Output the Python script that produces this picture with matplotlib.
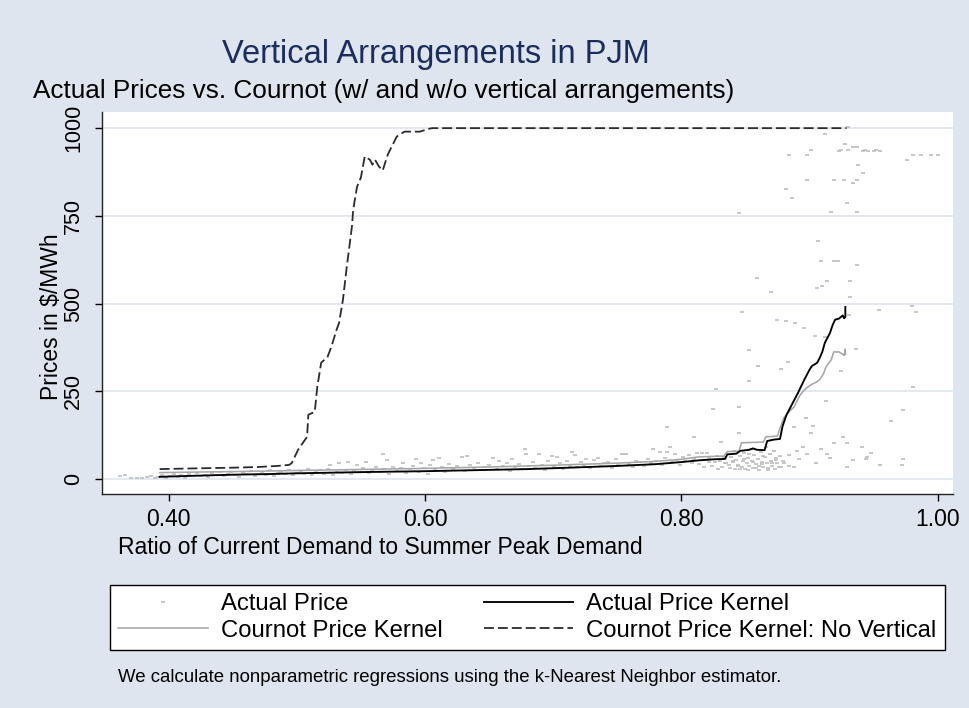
import matplotlib
matplotlib.use("Agg")
import matplotlib.pyplot as plt
from matplotlib.lines import Line2D

plt.rcParams['font.family'] = ['Liberation Sans', 'DejaVu Sans']

# scatter of actual prices (ratio, $/MWh)
price_x = [0.362, 0.366, 0.371, 0.375, 0.379, 0.383, 0.386, 0.389, 0.392, 0.395, 0.398, 0.401, 0.404, 0.407,
           0.410, 0.413, 0.416, 0.419, 0.422, 0.425, 0.428, 0.431, 0.434, 0.437, 0.440, 0.443, 0.446, 0.449,
           0.452, 0.455, 0.458, 0.461, 0.464, 0.467, 0.470, 0.473, 0.476, 0.479, 0.482, 0.485, 0.488, 0.491,
           0.494, 0.497, 0.500, 0.503, 0.506, 0.509, 0.512, 0.515, 0.518, 0.521, 0.524, 0.526, 0.528, 0.531,
           0.533, 0.535, 0.538, 0.540, 0.542, 0.545, 0.547, 0.549, 0.552, 0.554, 0.556, 0.559, 0.562, 0.565,
           0.567, 0.568, 0.570, 0.572, 0.575, 0.578, 0.581, 0.583, 0.585, 0.588, 0.591, 0.593, 0.595, 0.597,
           0.599, 0.602, 0.604, 0.606, 0.608, 0.611, 0.613, 0.616, 0.619, 0.622, 0.625, 0.629, 0.631, 0.633,
           0.635, 0.638, 0.641, 0.644, 0.647, 0.650, 0.653, 0.656, 0.658, 0.661, 0.664, 0.666, 0.668, 0.670,
           0.673, 0.676, 0.678, 0.679, 0.681, 0.684, 0.686, 0.689, 0.691, 0.694, 0.696, 0.699, 0.701, 0.703,
           0.705, 0.708, 0.711, 0.713, 0.715, 0.717, 0.719, 0.722, 0.724, 0.726, 0.729, 0.732, 0.735, 0.737,
           0.740, 0.743, 0.746, 0.749, 0.751, 0.754, 0.757, 0.759, 0.762, 0.765, 0.768, 0.771, 0.774, 0.776,
           0.778, 0.780, 0.783, 0.785, 0.787, 0.789, 0.789, 0.791, 0.793, 0.795, 0.797, 0.799, 0.801, 0.803,
           0.806, 0.808, 0.810, 0.810, 0.812, 0.814, 0.816, 0.818, 0.820, 0.822, 0.824, 0.825, 0.826, 0.827,
           0.828, 0.830, 0.831, 0.832, 0.834, 0.835, 0.836, 0.838, 0.839, 0.840, 0.841, 0.842, 0.843, 0.844,
           0.845, 0.845, 0.845, 0.846, 0.847, 0.847, 0.848, 0.849, 0.850, 0.851, 0.852, 0.853, 0.853, 0.853,
           0.854, 0.855, 0.856, 0.857, 0.858, 0.859, 0.860, 0.860, 0.861, 0.862, 0.863, 0.864, 0.865, 0.866,
           0.867, 0.868, 0.869, 0.870, 0.870, 0.871, 0.872, 0.873, 0.874, 0.875, 0.875, 0.876, 0.877, 0.878,
           0.878, 0.879, 0.880, 0.882, 0.882, 0.883, 0.884, 0.884, 0.884, 0.886, 0.888, 0.888, 0.889, 0.890,
           0.892, 0.895, 0.896, 0.897, 0.898, 0.898, 0.898, 0.901, 0.901, 0.903, 0.904, 0.905, 0.906, 0.907,
           0.909, 0.909, 0.910, 0.912, 0.912, 0.913, 0.914, 0.914, 0.916, 0.917, 0.919, 0.919, 0.919, 0.922,
           0.923, 0.925, 0.925, 0.926, 0.927, 0.928, 0.929, 0.929, 0.929, 0.930, 0.930, 0.931, 0.932, 0.932,
           0.934, 0.934, 0.934, 0.936, 0.937, 0.937, 0.937, 0.937, 0.938, 0.941, 0.942, 0.942, 0.943, 0.944,
           0.945, 0.946, 0.948, 0.950, 0.952, 0.954, 0.955, 0.955, 0.964, 0.972, 0.973, 0.973, 0.976, 0.980,
           0.981, 0.981, 0.983, 0.987, 0.995, 1.000,
           # extra points in the dense band
           0.818, 0.822, 0.829, 0.833, 0.837, 0.844, 0.849, 0.852, 0.856, 0.861, 0.864, 0.868, 0.871, 0.874,
           0.853, 0.858, 0.863, 0.846, 0.840, 0.834]
price_y = [8, 10, 2, 4, 3, 6, 9, 2, 5, 12, 4, 8, 15, 6,
           11, 3, 13, 9, 17, 7, 12, 5, 16, 10, 19, 8, 14, 21,
           11, 6, 17, 13, 22, 9, 15, 19, 12, 24, 8, 16, 20, 13,
           25, 10, 18, 22, 14, 27, 11, 19, 24, 15, 29, 40, 12, 21,
           46, 17, 26, 49, 14, 23, 40, 19, 30, 49, 16, 25, 33, 20,
           71, 28, 54, 13, 35, 22, 30, 46, 18, 27, 38, 57, 21, 46,
           31, 15, 40, 54, 26, 60, 33, 19, 42, 28, 36, 63, 22, 66,
           39, 30, 45, 24, 35, 41, 60, 29, 51, 37, 46, 23, 57, 33,
           42, 27, 86, 71, 38, 48, 31, 71, 40, 26, 52, 66, 35, 63,
           44, 29, 50, 38, 77, 68, 33, 47, 41, 57, 30, 53, 60, 36,
           45, 49, 32, 56, 40, 71, 71, 43, 35, 52, 47, 38, 58, 44,
           86, 51, 77, 41, 61, 77, 148, 91, 48, 71, 55, 39, 63, 50,
           68, 45, 120, 58, 74, 42, 74, 53, 74, 61, 38, 200, 47, 257,
           66, 52, 106, 35, 58, 44, 70, 30, 62, 48, 80, 27, 55, 40,
           131, 205, 757, 66, 477, 34, 50, 74, 28, 45, 60, 280, 368, 38,
           85, 52, 30, 68, 42, 573, 323, 57, 25, 76, 48, 35, 62, 90,
           44, 30, 70, 534, 52, 38, 80, 27, 60, 454, 45, 33, 66, 314,
           34, 50, 46, 827, 451, 334, 922, 68, 37, 802, 148, 34, 445, 80,
           57, 91, 431, 174, 853, 922, 71, 131, 937, 151, 408, 46, 545, 679,
           622, 86, 551, 405, 982, 223, 71, 565, 60, 762, 853, 622, 103, 622,
           936, 937, 308, 120, 853, 956, 103, 34, 787, 937, 1002, 468, 565, 519,
           945, 844, 54, 371, 945, 853, 611, 762, 896, 91, 873, 936, 937, 57,
           63, 936, 74, 936, 937, 482, 40, 936, 166, 40, 57, 197, 910, 494,
           263, 922, 477, 922, 922, 922,
           33, 47, 28, 63, 41, 36, 58, 24, 49, 37, 66, 26, 45, 55,
           71, 31, 42, 29, 52, 44]

# k-nearest-neighbour fits
actual_x = [0.393, 0.42, 0.45, 0.48, 0.50, 0.53, 0.56, 0.60, 0.64, 0.68, 0.72, 0.75, 0.78, 0.80, 0.814,
            0.826, 0.834, 0.836, 0.843, 0.846, 0.853, 0.856, 0.859, 0.865, 0.867, 0.872, 0.877, 0.879, 0.882,
            0.886, 0.891, 0.896, 0.900, 0.902, 0.906, 0.908, 0.910, 0.912, 0.916, 0.918, 0.920, 0.923, 0.926,
            0.927, 0.928, 0.928]
actual_y = [6, 9, 12, 14, 16, 18, 20, 22, 25, 28, 33, 37, 42, 48, 53,
            56, 57, 70, 72, 80, 83, 87, 83, 82, 108, 112, 114, 150, 182,
            210, 245, 283, 311, 322, 331, 345, 362, 388, 416, 438, 454, 457, 466,
            458, 462, 490]

cournot_x = [0.393, 0.43, 0.47, 0.50, 0.55, 0.60, 0.65, 0.70, 0.75, 0.78, 0.80, 0.814, 0.833, 0.836,
             0.845, 0.847, 0.864, 0.866, 0.875, 0.877, 0.880, 0.885, 0.888, 0.892, 0.895, 0.898, 0.902,
             0.905, 0.908, 0.911, 0.913, 0.917, 0.919, 0.923, 0.926, 0.927, 0.928, 0.928]
cournot_y = [18, 20, 22, 24, 27, 30, 34, 39, 45, 50, 56, 63, 65, 78,
             79, 103, 105, 120, 122, 145, 174, 195, 205, 235, 250, 260, 270,
             275, 283, 300, 320, 340, 362, 362, 355, 352, 370, 355]

novert_x = [0.393, 0.42, 0.45, 0.47, 0.485, 0.494, 0.496, 0.501, 0.508, 0.509, 0.514, 0.516, 0.519, 0.524,
            0.527, 0.531, 0.533, 0.536, 0.539, 0.543, 0.544, 0.547, 0.550, 0.553, 0.557, 0.559, 0.561,
            0.564, 0.567, 0.571, 0.578, 0.584, 0.592, 0.596, 0.604, 0.606, 0.929]
novert_y = [28, 30, 32, 34, 37, 40, 45, 83, 120, 183, 191, 263, 331, 348,
            377, 425, 445, 511, 605, 719, 768, 833, 859, 919, 910, 896, 910,
            891, 879, 925, 976, 990, 990, 990, 999, 1000, 1000]

x_ticks = [0.4, 0.6, 0.8, 1.0]
x_tick_labels = ['0.40', '0.60', '0.80', '1.00']
y_ticks = [0, 250, 500, 750, 1000]

bg = '#dfe5ef'
W, H = 969, 708
fig = plt.figure(figsize=(W / 100, H / 100), dpi=100, facecolor=bg)
ax = fig.add_axes([102 / W, 1 - 494 / H, 851 / W, 382 / H])
ax.set_facecolor('white')

for yt in y_ticks:
    ax.axhline(yt, color=bg, lw=1.2, zorder=0)

ax.plot(price_x, price_y, ls='none', marker='_', ms=3.2, mew=1.2, color='#bdbdbd', zorder=1)
ax.plot(cournot_x, cournot_y, color='#a6a6a6', lw=1.15, zorder=2)
ax.plot(actual_x, actual_y, color='black', lw=1.35, zorder=3)
nv, = ax.plot(novert_x, novert_y, color='#2b2b2b', lw=1.3, zorder=3)
nv.set_dashes((5.5, 2.2))

ax.set_xlim(0.348, 1.012)
ax.set_ylim(-43, 1046)
ax.set_xticks(x_ticks)
ax.set_xticklabels(x_tick_labels)
ax.set_yticks(y_ticks)
ax.set_yticklabels([str(v) for v in y_ticks], rotation=90, va='center')
ax.tick_params(axis='x', length=5, width=1, labelsize=16.5, pad=5)
ax.tick_params(axis='y', length=5, width=1, labelsize=15.5, pad=8)
for s in ['top', 'right']:
    ax.spines[s].set_visible(False)
for s in ['left', 'bottom']:
    ax.spines[s].set_linewidth(1.0)
    ax.spines[s].set_color('#222222')

ax.set_xlabel('Ratio of Current Demand to Summer Peak Demand', fontsize=16.5)
ax.xaxis.set_label_coords((118 - 102) / 851, -(548 - 494) / 382)
ax.xaxis.label.set_ha('left')
ax.xaxis.label.set_va('center')
ax.set_ylabel('Prices in $/MWh', fontsize=16.5)
ax.yaxis.set_label_coords(-(102 - 52) / 851, (494 - 317) / 382)
ax.yaxis.label.set_va('center')

fig.text(436 / W, 1 - 54 / H, 'Vertical Arrangements in PJM', fontsize=23.5, color='#1b2d5c',
         ha='center', va='center')
fig.text(33 / W, 1 - 91 / H, 'Actual Prices vs. Cournot (w/ and w/o vertical arrangements)',
         fontsize=18.8, ha='left', va='center')

h_pts = Line2D([], [], ls='none', marker='_', ms=3.2, mew=1.2, color='#bdbdbd')
h_cour = Line2D([], [], color='#a6a6a6', lw=1.15)
h_act = Line2D([], [], color='black', lw=1.35)
h_nv = Line2D([], [], color='#2b2b2b', lw=1.3, dashes=(5.5, 2.2))
leg = fig.legend([h_pts, h_cour, h_act, h_nv],
                 ['Actual Price', 'Cournot Price Kernel', 'Actual Price Kernel',
                  'Cournot Price Kernel: No Vertical'],
                 ncol=2, mode='expand', fontsize=17.2,
                 bbox_to_anchor=(110 / W, 1 - 650 / H, 835 / W, 76 / H), loc='lower left',
                 handlelength=3.75, handletextpad=0.55, borderpad=0.35, labelspacing=0.2,
                 borderaxespad=0, fancybox=False, frameon=True, framealpha=1,
                 facecolor='white')
leg.get_frame().set_edgecolor('black')
leg.get_frame().set_linewidth(1.0)

fig.text(118 / W, 1 - 677 / H,
         'We calculate nonparametric regressions using the k-Nearest Neighbor estimator.',
         fontsize=13.4, ha='left', va='center')

fig.savefig('out.png', dpi=100, facecolor=bg)
